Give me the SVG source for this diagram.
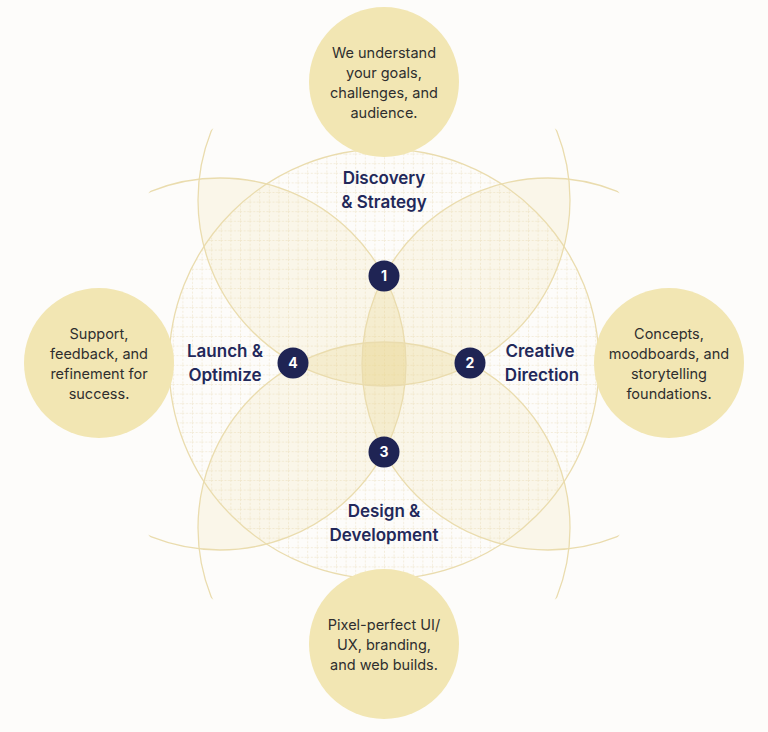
<svg xmlns="http://www.w3.org/2000/svg" width="768" height="732" viewBox="0 0 768 732">
<style>
.lens{fill:rgba(236,214,140,0.15);stroke:none}
.petal{fill:none;stroke:#eadcae;stroke-width:1.3}
.outer{fill:none;stroke:#eadcae;stroke-width:1.3}
.info{fill:#f2e6b3}
.badge{fill:#1f2454}
.num{font-family:Inter,"Liberation Sans",sans-serif;font-size:14px;font-weight:700;fill:#fff;text-anchor:middle}
.title{font-family:Inter,"Liberation Sans",sans-serif;font-size:17px;font-weight:600;fill:#22285a;text-anchor:middle}
.desc{font-family:Inter,"Liberation Sans",sans-serif;font-size:14.5px;font-weight:400;fill:#2e2e2e;text-anchor:middle}
</style>
<defs>
<pattern id="grid" width="9.6" height="9.6" patternUnits="userSpaceOnUse" x="0" y="0">
<path d="M0 0.5H9.6M0.5 0V9.6" stroke="#f3ecda" stroke-width="1" stroke-dasharray="2 1.6" fill="none"/>
</pattern>
<clipPath id="bigc"><circle cx="384" cy="364" r="215"/></clipPath>
<clipPath id="fadec"><circle cx="384" cy="364" r="291"/></clipPath>
<clipPath id="cT"><circle cx="384" cy="200" r="186"/></clipPath>
<clipPath id="cR"><circle cx="548" cy="364" r="186"/></clipPath>
<clipPath id="cB"><circle cx="384" cy="528" r="186"/></clipPath>
<clipPath id="cL"><circle cx="220" cy="364" r="186"/></clipPath>
</defs>
<rect width="768" height="732" fill="#fdfcfa"/>
<g id="grid-area" clip-path="url(#bigc)">
<rect x="160" y="140" width="450" height="450" fill="url(#grid)"/>
</g>
<g id="overlaps">
<circle class="lens" cx="384" cy="200" r="186" clip-path="url(#cL)"/>
<circle class="lens" cx="384" cy="200" r="186" clip-path="url(#cR)"/>
<circle class="lens" cx="384" cy="528" r="186" clip-path="url(#cL)"/>
<circle class="lens" cx="384" cy="528" r="186" clip-path="url(#cR)"/>
<circle class="lens" cx="384" cy="200" r="186" clip-path="url(#cB)"/>
<circle class="lens" cx="220" cy="364" r="186" clip-path="url(#cR)"/>
</g>
<g id="petals" clip-path="url(#fadec)">
<circle class="petal" cx="384" cy="200" r="186"/>
<circle class="petal" cx="548" cy="364" r="186"/>
<circle class="petal" cx="384" cy="528" r="186"/>
<circle class="petal" cx="220" cy="364" r="186"/>
</g>
<circle class="outer" cx="384" cy="364" r="215"/>
<g id="info-top"><circle class="info" cx="384" cy="82" r="75"/>
<text class="desc" x="384" y="58">We understand</text>
<text class="desc" x="384" y="78">your goals,</text>
<text class="desc" x="384" y="98">challenges, and</text>
<text class="desc" x="384" y="118">audience.</text></g>
<g id="info-right"><circle class="info" cx="669" cy="363" r="75"/>
<text class="desc" x="669" y="339">Concepts,</text>
<text class="desc" x="669" y="359">moodboards, and</text>
<text class="desc" x="669" y="379">storytelling</text>
<text class="desc" x="669" y="399">foundations.</text></g>
<g id="info-bottom"><circle class="info" cx="384" cy="644" r="75"/>
<text class="desc" x="384" y="630">Pixel-perfect UI/</text>
<text class="desc" x="384" y="650">UX, branding,</text>
<text class="desc" x="384" y="670">and web builds.</text></g>
<g id="info-left"><circle class="info" cx="99" cy="363" r="75"/>
<text class="desc" x="99" y="339">Support,</text>
<text class="desc" x="99" y="359">feedback, and</text>
<text class="desc" x="99" y="379">refinement for</text>
<text class="desc" x="99" y="399">success.</text></g>
<g id="step1"><circle class="badge" cx="384" cy="276" r="15.5"/><text class="num" x="384" y="281">1</text>
<text class="title" x="384" y="184">Discovery</text><text class="title" x="384" y="208">&amp; Strategy</text></g>
<g id="step2"><circle class="badge" cx="470" cy="363" r="15.5"/><text class="num" x="470" y="368">2</text>
<text class="title" x="540" y="357">Creative</text><text class="title" x="542" y="381">Direction</text></g>
<g id="step3"><circle class="badge" cx="384" cy="452" r="15.5"/><text class="num" x="384" y="457">3</text>
<text class="title" x="384" y="517">Design &amp;</text><text class="title" x="384" y="541">Development</text></g>
<g id="step4"><circle class="badge" cx="293" cy="363" r="15.5"/><text class="num" x="293" y="368">4</text>
<text class="title" x="225" y="357">Launch &amp;</text><text class="title" x="225" y="381">Optimize</text></g>
</svg>
